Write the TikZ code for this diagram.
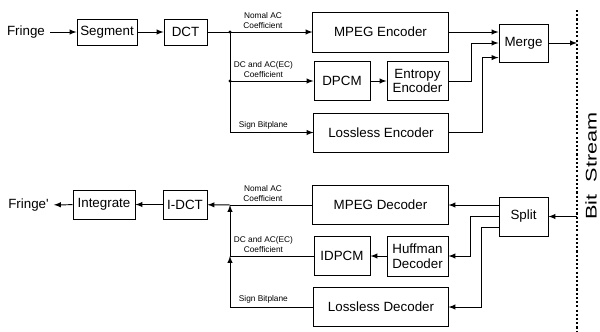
\documentclass[tikz,border=0pt]{standalone}
\usepackage{fontspec}
\setmainfont{Liberation Sans}
\usetikzlibrary{shapes, arrows, positioning}

\begin{document}
\begin{tikzpicture}[x=0.025cm, y=-0.025cm, line width=0.7pt, >=latex,
        block/.style={rectangle, draw, inner sep=0pt, align=center, font=\fontsize{9.5}{10.6}\selectfont},
        lbl/.style={font=\fontsize{5.9}{6.7}\selectfont, align=center, inner sep=0pt, above=2.2pt},
        txt/.style={font=\fontsize{9.5}{11}\selectfont}]
        \useasboundingbox (0,0) rectangle (600,331);

        % Encoder
        \node[txt] (fringe) at (26,32) {Fringe};
        \node[block, minimum width=1.5cm, minimum height=0.65cm] (segment) at (107,32) {Segment};
        \node[block, minimum width=1.075cm, minimum height=0.65cm, right of=segment, node distance=1.9625cm] (dct) {DCT};
        \node[block, minimum width=3.375cm, minimum height=1cm] (mpegenc) at (380.5,32) {MPEG Encoder};
        \node[block, minimum width=1.4cm, minimum height=0.975cm] (dpcm) at (342,81) {DPCM};
        \node[block, minimum width=1.525cm, minimum height=0.975cm] (entropy) at (417.5,81) {Entropy\\Encoder};
        \node[block, minimum width=3.35cm, minimum height=0.975cm] (losslessenc) at (381,132.5) {Lossless Encoder};
        \node[block, minimum width=1.225cm, minimum height=0.95cm] (merge) at (523.5,43) {Merge};

        % Decoder
        \node[txt] (fringeout) at (28.5,205) {Fringe\textquotesingle};
        \node[block, minimum width=1.55cm, minimum height=0.725cm] (integrate) at (104,204.5) {Integrate};
        \node[block, minimum width=1.1cm, minimum height=0.725cm] (idct) at (185,204.5) {I-DCT};
        \node[block, minimum width=3.375cm, minimum height=0.975cm] (mpegdec) at (380.5,205) {MPEG Decoder};
        \node[block, minimum width=1.4cm, minimum height=0.975cm] (idpcm) at (342,256) {IDPCM};
        \node[block, minimum width=1.525cm, minimum height=1cm] (huffman) at (417.5,256) {Huffman\\Decoder};
        \node[block, minimum width=3.35cm, minimum height=0.975cm] (losslessdec) at (381,307) {Lossless Decoder};
        \node[block, minimum width=1.225cm, minimum height=0.975cm] (split) at (523.5,216.5) {Split};

        % Bit stream
        \coordinate (bstop) at (577,10);
        \coordinate (bsbot) at (577,331);
        \draw[line width=1.5pt, dash pattern=on 1.5pt off 1.5pt] (bstop) -- (bsbot);
        \node[rotate=90, font=\fontsize{11}{13}\selectfont] (bitstream) at (591,166) {\scalebox{1.4}[1]{Bit\ \ Stream}};

        % Junctions
        \coordinate (j1) at (230,32);
        \coordinate (j2) at (230,81);
        \coordinate (j3) at (230,132.5);
        \coordinate (k1) at (230,205);
        \coordinate (k2) at (230,256);
        \coordinate (k3) at (230,307);
        \fill (j1) circle (1.6);
        \fill (j2) circle (1.6);

        % Connections (encoder)
        \draw[->] (fringe) -- (segment);
        \draw[->] (segment) -- (dct);
        \draw (dct) -- (j1);
        \draw (j1) -- (j3);
        \draw[->] (j1) -- node[lbl, pos=0.4] {Nomal AC\\Coefficient} (mpegenc);
        \draw[->] (j2) -- node[lbl, pos=0.4] {DC and AC(EC)\\Coefficient} (dpcm);
        \draw[->] (j3) -- node[lbl, pos=0.4] {Sign Bitplane} (losslessenc);
        \draw[->] (dpcm) -- (entropy);
        \draw[->] (mpegenc) -- (mpegenc -| merge.west);
        \draw[->] (entropy.east) -- ++(23,0) |- (merge.west);
        \draw[->] (losslessenc.east) -- ++(34,0) |- ([yshift=3.5pt]merge.south west);
        \draw[->] (merge.east) -- (merge.east -| bstop);

        % Connections (decoder)
        \draw[->] (split.east -| bstop) -- (split.east);
        \draw[->] (split.west |- mpegdec.east) -- (mpegdec.east);
        \draw[->] (split.west) -- ++(-28,0) |- (huffman.east);
        \draw[->] ([yshift=-8.15pt]split.west) -- ++(-17,0) |- (losslessdec.east);
        \draw[->] (huffman) -- (idpcm);
        \draw (k1) -- node[lbl, pos=0.4] {Nomal AC\\Coefficient} (mpegdec);
        \draw (k2) -- node[lbl, pos=0.4] {DC and AC(EC)\\Coefficient} (idpcm);
        \draw (k3) -- node[lbl, pos=0.4] {Sign Bitplane} (losslessdec);
        \draw[->] (k3) -- (k2);
        \draw[->] (k2) -- (k1);
        \draw[->] (k1) -- (idct);
        \draw[->] (idct) -- (integrate);
        \draw[->] (integrate) -- (fringeout);
    \end{tikzpicture}
\end{document}
